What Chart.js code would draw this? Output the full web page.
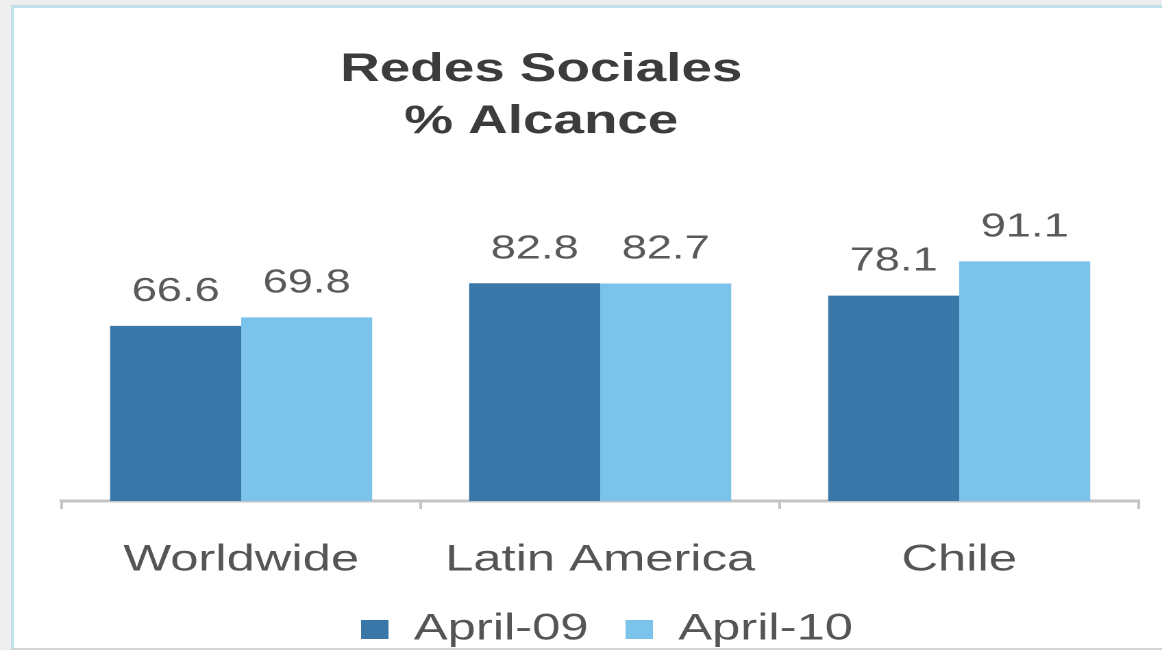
<!DOCTYPE html>
<html>
<head>
<meta charset="utf-8">
<script src="https://cdn.jsdelivr.net/npm/chart.js@4.4.1/dist/chart.umd.min.js"></script>
<style>
  html, body { margin: 0; padding: 0; background: #eeeeee; overflow: hidden; }
  #panel {
    position: absolute; left: 11px; top: 5px; width: 1160px; height: 640px;
    background: #ffffff; border-left: 3px solid #bfe1e7; border-top: 3px solid #bfe1e7;
    border-bottom: 2px solid #d4d4d4;
  }
  #chart { position: absolute; left: 0; top: 0; }
</style>
</head>
<body>
<div id="panel"></div>
<!-- the reference is stretched sideways, so the canvas is drawn narrow and widened by css -->
<canvas id="chart" width="848" height="650" style="width:1162px;height:650px"></canvas>
<script>
// data
const categories = ['Worldwide', 'Latin America', 'Chile'];
const seriesNames = ['April-09', 'April-10'];
const april09 = [66.6, 82.8, 78.1];
const april10 = [69.8, 82.7, 91.1];
const titleLines = ['Redes Sociales', '% Alcance'];

const FONT = '"Liberation Sans", Arial, sans-serif';

// title drawn by hand, it sits left of the chart centre
const titlePlugin = {
  id: 'titleLines',
  afterDraw(chart) {
    const ctx = chart.ctx;
    ctx.save();
    ctx.fillStyle = '#3c3c3c';
    ctx.font = 'bold 40px ' + FONT;
    ctx.textAlign = 'center';
    ctx.textBaseline = 'middle';
    const cx = 395;
    ctx.fillText(titleLines[0], cx, 70);
    ctx.fillText(titleLines[1], cx, 122);
    ctx.restore();
  }
};

// value over each bar
const valuePlugin = {
  id: 'values',
  afterDatasetsDraw(chart) {
    const ctx = chart.ctx;
    ctx.save();
    ctx.fillStyle = '#5a5a5a';
    ctx.font = '33px ' + FONT;
    ctx.textAlign = 'center';
    ctx.textBaseline = 'middle';
    chart.data.datasets.forEach((ds, i) => {
      chart.getDatasetMeta(i).data.forEach((bar, j) => {
        ctx.fillText(ds.data[j].toFixed(1), bar.x, bar.y - 34);
      });
    });
    ctx.restore();
  }
};

// legend sits a little right of the plot centre in the original
const legendShift = {
  id: 'legendShift',
  afterLayout(chart) {
    if (chart.legend) {
      chart.legend.left += 5;
      chart.legend.right += 5;
    }
  }
};

new Chart(document.getElementById('chart'), {
  type: 'bar',
  data: {
    labels: categories,
    datasets: [
      { label: seriesNames[0], data: april09, backgroundColor: '#3877a7' },
      { label: seriesNames[1], data: april10, backgroundColor: '#7cc3ec' }
    ]
  },
  options: {
    responsive: false,
    animation: false,
    devicePixelRatio: 2,
    layout: { padding: { left: 45, right: 17, top: 238, bottom: -8 } },
    datasets: { bar: { categoryPercentage: 0.73, barPercentage: 1.0 } },
    scales: {
      x: {
        grid: {
          offset: true, drawOnChartArea: false, drawTicks: true,
          tickLength: 8, color: '#c4c4c4', lineWidth: 2
        },
        border: { display: true, color: '#c4c4c4', width: 3 },
        ticks: { color: '#555555', padding: 33, font: { family: FONT, size: 37, lineHeight: 1.0 } },
        // labels hang into the gap above the legend, so the axis box is kept short
        afterFit(scale) { scale.height -= 28; }
      },
      y: { display: false, min: 0, max: 100 }
    },
    plugins: {
      legend: {
        position: 'bottom',
        labels: {
          color: '#555555', boxWidth: 20, boxHeight: 19, padding: 27,
          font: { family: FONT, size: 37 }
        }
      },
      title: { display: false },
      tooltip: { enabled: false }
    }
  },
  plugins: [titlePlugin, valuePlugin, legendShift]
});
</script>
</body>
</html>
